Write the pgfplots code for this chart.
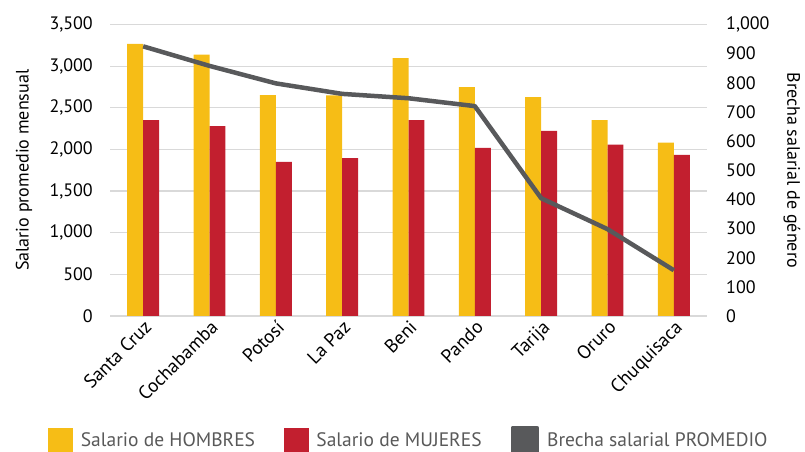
\documentclass[border=0pt]{standalone}
\usepackage{pgfplots}
\pgfplotsset{compat=1.18}
\usepackage{fontspec}
\setmainfont{PT Sans}
\definecolor{hy}{HTML}{F6BD16}
\definecolor{mr}{HTML}{C21F2F}
\definecolor{bg}{HTML}{58595B}
\definecolor{gr}{HTML}{D9D9D9}
\definecolor{lt}{HTML}{595959}
\newcommand{\myf}{\fontsize{18bp}{21bp}\selectfont}
\newcommand{\myx}{\fontsize{19bp}{22bp}\selectfont}
\newcommand{\myl}{\fontsize{19.5bp}{22bp}\selectfont}
\begin{document}
\begin{tikzpicture}
\useasboundingbox (0,0) rectangle (805bp,452bp);
\begin{axis}[
  at={(110bp,136bp)}, anchor=south west,
  scale only axis, width=597bp, height=291.5bp,
  xmin=-0.5, xmax=8.5, ymin=0, ymax=3500,
  ytick={0,500,...,3500},
  xtick={0,...,8},
  xticklabels={Santa Cruz,Cochabamba,Potosí,La Paz,Beni,Pando,Tarija,Oruro,Chuquisaca},
  major tick length=0pt,
  axis x line*=bottom, axis y line*=left,
  y axis line style={draw=none},
  x axis line style={draw=gr, line width=1.2bp, -},
  ymajorgrids, grid style={draw=gr, line width=1.2bp},
  ylabel={Salario promedio mensual},
  ylabel style={font=\myf, at={(axis description cs:-0.144,0.5)}, anchor=center},
  bar width=0.24,
  clip=false,
  xticklabel style={font=\myx, rotate=45, anchor=north east, inner sep=2bp},
  every y tick label/.append style={font=\myf, inner sep=0pt, xshift=-17bp},
  /pgf/number format/1000 sep={,},
  /pgf/number format/assume math mode=true,
]
\addplot[ybar, fill=hy, draw=none, bar shift=-0.12] coordinates {
(0,3266) (1,3137) (2,2652) (3,2650) (4,3097) (5,2748) (6,2628) (7,2352) (8,2083)};
\addplot[ybar, fill=mr, draw=none, bar shift=0.12] coordinates {
(0,2352) (1,2280) (2,1851) (3,1895) (4,2352) (5,2019) (6,2224) (7,2059) (8,1935)};
\end{axis}
\begin{axis}[
  at={(110bp,136bp)}, anchor=south west,
  scale only axis, width=597bp, height=291.5bp,
  xmin=-0.5, xmax=8.5, ymin=0, ymax=1000,
  ytick={0,100,...,1000},
  axis x line=none, axis y line*=right,
  y axis line style={draw=none},
  major tick length=0pt,
  every y tick label/.append style={font=\myf, inner sep=0pt, xshift=19bp, anchor=west},
  /pgf/number format/1000 sep={,},
  /pgf/number format/assume math mode=true,
  ylabel={Brecha salarial de género},
  ylabel style={font=\myf, rotate=180, at={(axis description cs:1.1424,0.5)}, anchor=center},
  legend columns=3,
  legend style={at={(0.5,-0.425)}, anchor=center, draw=none, font=\myl, text=lt,
    /tikz/every even column/.append style={column sep=28bp},
    nodes={inner sep=1bp}},
  clip=false,
]
\addlegendimage{legend image code/.code={\fill[hy] (0bp,-12bp) rectangle (24bp,12bp); \path (31bp,0bp);}}
\addlegendentry{Salario de HOMBRES}
\addlegendimage{legend image code/.code={\fill[mr] (0bp,-12bp) rectangle (24bp,12bp); \path (31bp,0bp);}}
\addlegendentry{Salario de MUJERES}
\addplot[draw=bg, line width=4.5bp, line join=round,
  legend image code/.code={\fill[bg] (0bp,-12bp) rectangle (24bp,12bp); \path (31bp,0bp);}] coordinates {
(0,925) (1,858) (2,798) (3,762) (4,747) (5,720) (6,404) (7,298) (8,157)};
\addlegendentry{Brecha salarial PROMEDIO}
\end{axis}
\end{tikzpicture}
\end{document}
